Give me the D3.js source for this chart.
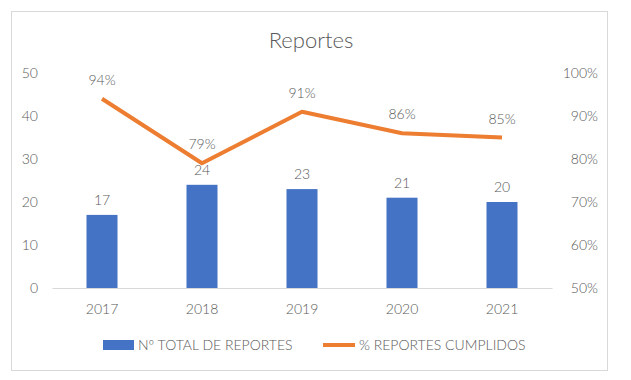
<!DOCTYPE html>
<html>
<head>
<meta charset="utf-8">
<script src="https://cdn.jsdelivr.net/npm/d3@7"></script>
<style>
  body { margin: 0; background: #fff; }
  svg text { font-family: Lato, "Open Sans", sans-serif; font-weight: 300; fill: #595959; }
</style>
</head>
<body>
<div id="chart"></div>
<script>
// data
const years = ['2017', '2018', '2019', '2020', '2021'];
const totalReportes = [17, 24, 23, 21, 20];
const pctCumplidos = [0.94, 0.79, 0.91, 0.86, 0.85];
const leftTicks = [0, 10, 20, 30, 40, 50];
const rightTicks = [0.5, 0.6, 0.7, 0.8, 0.9, 1.0];

const width = 631,
      height = 380,
      margins = { top: 73, right: 79, bottom: 92, left: 52 };

const innerW = width - margins.left - margins.right,
      innerH = height - margins.top - margins.bottom;

const blue = '#4472C4',
      orange = '#ED7D31';

const xScale = d3.scaleBand()
  .domain(years)
  .range([0, innerW])
  .paddingInner(0.69)
  .paddingOuter(0.345);

const yLeft = d3.scaleLinear().domain([0, 50]).range([innerH, 0]);
const yRight = d3.scaleLinear().domain([0.5, 1.0]).range([innerH, 0]);

const $svg = d3.select('#chart').append('svg')
  .attr('width', width)
  .attr('height', height);

$svg.append('rect')
  .attr('x', 11.5).attr('y', 11.5)
  .attr('width', 596).attr('height', 359)
  .attr('fill', '#fff')
  .attr('stroke', '#d9d9d9');

$svg.append('text')
  .attr('x', 311).attr('y', 48)
  .attr('text-anchor', 'middle')
  .style('font-size', '22px')
  .text('Reportes');

const $g = $svg.append('g')
  .attr('transform', `translate(${margins.left}, ${margins.top})`);

// axes
const xAxis = d3.axisBottom(xScale).tickSize(0).tickPadding(16);
const $x = $g.append('g')
  .attr('transform', `translate(0, ${innerH})`)
  .call(xAxis);
$x.select('.domain').attr('stroke', '#d9d9d9');
$x.selectAll('text').style('font-size', '14px').attr('fill', '#595959');

const $yl = $g.append('g')
  .call(d3.axisLeft(yLeft).tickValues(leftTicks).tickSize(0).tickPadding(14));
$yl.select('.domain').remove();
$yl.selectAll('text').style('font-size', '14px').attr('fill', '#595959');

const $yr = $g.append('g')
  .attr('transform', `translate(${innerW}, 0)`)
  .call(d3.axisRight(yRight).tickValues(rightTicks).tickSize(0).tickPadding(46).tickFormat(d3.format('.0%')));
$yr.select('.domain').remove();
$yr.selectAll('text').style('font-size', '14px').attr('fill', '#595959').attr('text-anchor', 'end');

// bars
const barData = years.map((y, i) => ({ year: y, value: totalReportes[i] }));
$g.selectAll('.bar')
  .data(barData)
  .enter()
  .append('rect')
  .classed('bar', true)
  .attr('x', d => xScale(d.year))
  .attr('y', d => yLeft(d.value))
  .attr('width', xScale.bandwidth())
  .attr('height', d => innerH - yLeft(d.value))
  .attr('fill', blue);

$g.selectAll('.bar-text')
  .data(barData)
  .enter()
  .append('text')
  .classed('bar-text', true)
  .attr('x', d => xScale(d.year) + xScale.bandwidth() / 2)
  .attr('y', d => yLeft(d.value) - 10)
  .attr('text-anchor', 'middle')
  .style('font-size', '14px')
  .text(d => d.value);

// line
const lineData = years.map((y, i) => ({ year: y, value: pctCumplidos[i] }));
const line = d3.line()
  .x(d => xScale(d.year) + xScale.bandwidth() / 2)
  .y(d => yRight(d.value));

$g.append('path')
  .datum(lineData)
  .attr('d', line)
  .attr('fill', 'none')
  .attr('stroke', orange)
  .attr('stroke-width', 4)
  .attr('stroke-linejoin', 'round');

$g.selectAll('.line-text')
  .data(lineData)
  .enter()
  .append('text')
  .classed('line-text', true)
  .attr('x', d => xScale(d.year) + xScale.bandwidth() / 2)
  .attr('y', d => yRight(d.value) - 14)
  .attr('text-anchor', 'middle')
  .style('font-size', '14px')
  .text(d => d3.format('.0%')(d.value));

// legend
const $leg = $svg.append('g').attr('transform', 'translate(0, 345)');
$leg.append('rect')
  .attr('x', 103).attr('y', -5)
  .attr('width', 31).attr('height', 10)
  .attr('fill', blue);
$leg.append('text')
  .attr('x', 138).attr('y', 5)
  .style('font-size', '14px')
  .text('Nº TOTAL DE REPORTES');
$leg.append('line')
  .attr('x1', 323).attr('x2', 355)
  .attr('y1', 0).attr('y2', 0)
  .attr('stroke', orange)
  .attr('stroke-width', 4);
$leg.append('text')
  .attr('x', 359).attr('y', 5)
  .style('font-size', '14px')
  .text('% REPORTES CUMPLIDOS');
</script>
</body>
</html>
